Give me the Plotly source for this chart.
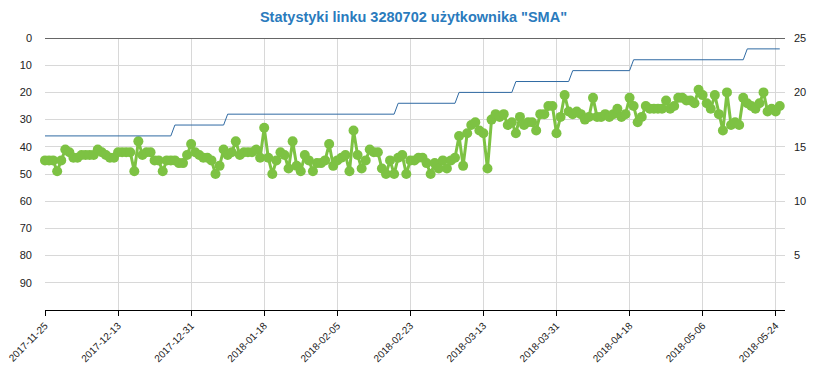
import pandas as pd
import plotly.graph_objects as go

# ---- data ----
start_date = "2017-11-25"
n_days = 182

position = [
    45, 45, 45, 49, 45, 41, 42, 44, 44, 43,
    43, 43, 43, 41, 42, 43, 44, 44, 42, 42,
    42, 42, 49, 38, 43, 42, 42, 45, 45, 49,
    45, 45, 45, 46, 46, 43, 39, 42, 43, 44,
    44, 45, 50, 47, 41, 43, 42, 38, 43, 42,
    42, 42, 41, 44, 33, 44, 50, 45, 42, 43,
    48, 38, 47, 49, 43, 45, 49, 46, 46, 45,
    39, 47, 45, 44, 43, 49, 34, 43, 48, 45,
    41, 42, 42, 48, 50, 45, 50, 44, 43, 50,
    45, 45, 44, 44, 46, 50, 46, 48, 45, 48,
    45, 44, 36, 47, 35, 32, 31, 34, 35, 48,
    30, 28, 29, 28, 32, 31, 35, 29, 32, 31,
    31, 34, 28, 28, 25, 25, 35, 29, 21, 27,
    28, 27, 28, 30, 29, 22, 29, 29, 28, 29,
    28, 26, 29, 28, 22, 25, 31, 29, 25, 26,
    26, 26, 26, 23, 26, 25, 22, 22, 23, 23,
    24, 19, 21, 24, 26, 21, 28, 34, 20, 32,
    31, 32, 22, 24, 25, 26, 24, 20, 27, 26,
    27, 25,
]

links = [
    16, 16, 16, 16, 16, 16, 16, 16, 16, 16,
    16, 16, 16, 16, 16, 16, 16, 16, 16, 16,
    16, 16, 16, 16, 16, 16, 16, 16, 16, 16,
    16, 16, 17, 17, 17, 17, 17, 17, 17, 17,
    17, 17, 17, 17, 17, 18, 18, 18, 18, 18,
    18, 18, 18, 18, 18, 18, 18, 18, 18, 18,
    18, 18, 18, 18, 18, 18, 18, 18, 18, 18,
    18, 18, 18, 18, 18, 18, 18, 18, 18, 18,
    18, 18, 18, 18, 18, 18, 18, 19, 19, 19,
    19, 19, 19, 19, 19, 19, 19, 19, 19, 19,
    19, 19, 20, 20, 20, 20, 20, 20, 20, 20,
    20, 20, 20, 20, 20, 20, 21, 21, 21, 21,
    21, 21, 21, 21, 21, 21, 21, 21, 21, 21,
    22, 22, 22, 22, 22, 22, 22, 22, 22, 22,
    22, 22, 22, 22, 22, 23, 23, 23, 23, 23,
    23, 23, 23, 23, 23, 23, 23, 23, 23, 23,
    23, 23, 23, 23, 23, 23, 23, 23, 23, 23,
    23, 23, 23, 24, 24, 24, 24, 24, 24, 24,
    24, 24,
]

x_tick_labels = ["2017-11-25", "2017-12-13", "2017-12-31", "2018-01-18",
                 "2018-02-05", "2018-02-23", "2018-03-13", "2018-03-31",
                 "2018-04-18", "2018-05-06", "2018-05-24"]
left_ticks = [0, 10, 20, 30, 40, 50, 60, 70, 80, 90]
right_ticks = [5, 10, 15, 20, 25]

title_text = 'Statystyki linku 3280702 użytkownika "SMA"'

dates = pd.date_range(start_date, periods=n_days, freq="D")

FONT = "Liberation Sans, Arial, sans-serif"

fig = go.Figure()
fig.add_trace(go.Scatter(
    x=dates, y=links, mode="lines", yaxis="y2",
    line=dict(color="#2f6aa3", width=1),
    hoverinfo="x+y", showlegend=False,
))
fig.add_trace(go.Scatter(
    x=dates, y=position, mode="lines+markers",
    line=dict(color="#7dc243", width=3),
    marker=dict(color="#7dc243", size=10),
    cliponaxis=False, showlegend=False,
))

fig.update_layout(
    width=827, height=376,
    margin=dict(l=45, r=42, t=38, b=66, autoexpand=False),
    paper_bgcolor="white", plot_bgcolor="white",
    font=dict(family=FONT, size=11, color="#333333"),
    title=dict(text="<b>" + title_text + "</b>", x=0.5, xanchor="center",
               y=1 - 17 / 376, yanchor="middle", yref="container",
               font=dict(family=FONT, size=14.5, color="#2a7bbd")),
    xaxis=dict(
        type="date", automargin=False,
        range=["2017-11-25", "2018-05-26 07:00"],
        tickvals=x_tick_labels, ticktext=x_tick_labels,
        tickangle=-45, tickfont=dict(size=10, color="#222222"),
        ticks="outside", ticklen=5, tickcolor="#000000",
        showline=True, linecolor="#000000", linewidth=1,
        showgrid=True, gridcolor="#d8d8d8", gridwidth=1,
        zeroline=False,
    ),
    yaxis=dict(
        automargin=False,
        range=[100, 0], tickvals=left_ticks,
        ticktext=[str(v) for v in left_ticks],
        showgrid=True, gridcolor="#d8d8d8", gridwidth=1,
        zeroline=True, zerolinecolor="#666666", zerolinewidth=1,
        showline=False, ticks="", ticklabelstandoff=12,
        tickfont=dict(size=11, color="#222222"),
    ),
    yaxis2=dict(
        automargin=False,
        range=[0, 25], tickvals=right_ticks,
        ticktext=[str(v) for v in right_ticks],
        overlaying="y", side="right", showgrid=False, zeroline=False,
        showline=False, ticks="", ticklabelstandoff=8,
        tickfont=dict(size=11, color="#222222"),
    ),
)

fig.write_html(
    "out.html",
    config={"displayModeBar": False},
    post_script="document.body.style.margin='0';"
                "document.body.style.overflow='hidden';",
)
